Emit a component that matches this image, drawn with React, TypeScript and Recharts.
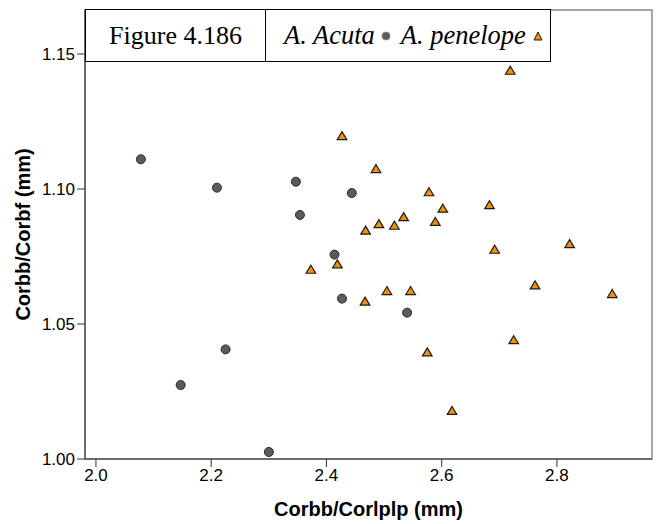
import {
  ScatterChart,
  Scatter,
  XAxis,
  YAxis,
  ReferenceArea,
  Legend,
} from 'recharts';

// A. Acuta (grey circles)
const acutaX = [2.078, 2.21, 2.347, 2.444, 2.354, 2.414, 2.427, 2.225, 2.147, 2.3, 2.54];
const acutaY = [1.111, 1.1005, 1.1027, 1.0985, 1.0904, 1.0757, 1.0594, 1.0406, 1.0274, 1.0026, 1.0542];

// A. penelope (orange triangles)
const penelopeX = [
  2.427, 2.486, 2.578, 2.602, 2.683, 2.534, 2.491, 2.518, 2.468, 2.589, 2.822, 2.692,
  2.419, 2.373, 2.762, 2.896, 2.505, 2.546, 2.467, 2.725, 2.575, 2.618, 2.719,
];
const penelopeY = [
  1.1196, 1.1074, 1.0988, 1.0927, 1.094, 1.0896, 1.087, 1.0864, 1.0846, 1.0878, 1.0796, 1.0775,
  1.0721, 1.0701, 1.0643, 1.0611, 1.0622, 1.0622, 1.0583, 1.044, 1.0395, 1.0178, 1.1438,
];

const xTicks = [2.0, 2.2, 2.4, 2.6, 2.8];
const yTicks = [1.0, 1.05, 1.1, 1.15];
const xDomain = [1.981, 2.965];
const yDomain = [1.0, 1.1663];

const acuta = acutaX.map((x, i) => ({ x, y: acutaY[i] }));
const penelope = penelopeX.map((x, i) => ({ x, y: penelopeY[i] }));

const sans = 'Liberation Sans, Arial, sans-serif';
const tickStyle = { fill: '#000', fontSize: 17, fontFamily: sans };

const Circle = (props: any) => (
  <circle cx={props.cx} cy={props.cy} r={4.5} fill="#5b5b5b" stroke="#2a2a2a" strokeWidth={1} />
);

const Triangle = (props: any) => {
  const { cx, cy } = props;
  return (
    <path
      d={`M${cx},${cy - 4.5} L${cx + 4.8},${cy + 3.5} L${cx - 4.8},${cy + 3.5} Z`}
      fill="#f0900f"
      stroke="#1a1a1a"
      strokeWidth={1.2}
    />
  );
};

function LegendBox() {
  const serif = 'Liberation Serif, Times New Roman, serif';
  return (
    <div
      style={{
        display: 'flex',
        width: 466,
        height: 53,
        boxSizing: 'border-box',
        border: '1.5px solid #000',
        background: '#fff',
        fontFamily: serif,
        fontSize: 26,
        color: '#000',
      }}
    >
      <div
        style={{
          width: 179,
          borderRight: '1.5px solid #000',
          display: 'flex',
          alignItems: 'center',
          justifyContent: 'center',
        }}
      >
        Figure 4.186
      </div>
      <div
        style={{
          flex: 1,
          display: 'flex',
          alignItems: 'center',
          paddingLeft: 18,
          fontStyle: 'italic',
          fontSize: 26.5,
        }}
      >
        <span>A. Acuta</span>
        <svg width={14} height={12} style={{ margin: '0 8px 0 4px' }}>
          <circle cx={7} cy={6} r={4} fill="#5b5b5b" stroke="#888" strokeWidth={1} />
        </svg>
        <span>A. penelope</span>
        <svg width={14} height={12} style={{ marginLeft: 5 }}>
          <path d="M7,2 L11,10 L3,10 Z" fill="#f0900f" stroke="#1a1a1a" strokeWidth={1} />
        </svg>
      </div>
    </div>
  );
}

export default function App() {
  return (
    <div style={{ position: 'absolute', top: 0, left: 0, width: 662, height: 524, background: '#fff' }}>
      <ScatterChart width={662} height={524} margin={{ top: 10, right: 10, bottom: 0, left: 0 }}>
        <XAxis
          type="number"
          dataKey="x"
          domain={xDomain}
          ticks={xTicks}
          allowDataOverflow
          height={65}
          stroke="#333"
          tickSize={8}
          tick={tickStyle}
          tickFormatter={(v: number) => v.toFixed(1)}
          label={{
            value: 'Corbb/Corlplp (mm)',
            position: 'insideBottom',
            offset: 8,
            style: { fill: '#000', fontSize: 20, fontWeight: 'bold', fontFamily: sans },
          }}
        />
        <YAxis
          type="number"
          dataKey="y"
          domain={yDomain}
          ticks={yTicks}
          allowDataOverflow
          width={85}
          stroke="#333"
          tickSize={8}
          tick={tickStyle}
          tickFormatter={(v: number) => v.toFixed(2)}
          label={{
            value: 'Corbb/Corbf (mm)',
            angle: -90,
            position: 'insideLeft',
            offset: 23,
            style: {
              fill: '#000',
              fontSize: 20,
              fontWeight: 'bold',
              fontFamily: sans,
              textAnchor: 'middle',
            },
          }}
        />
        <ReferenceArea
          x1={xDomain[0]}
          x2={xDomain[1]}
          y1={yDomain[0]}
          y2={yDomain[1]}
          fill="none"
          stroke="#8a8a8a"
          strokeWidth={1.5}
        />
        <Scatter name="A. Acuta" data={acuta} shape={Circle} isAnimationActive={false} />
        <Scatter name="A. penelope" data={penelope} shape={Triangle} isAnimationActive={false} />
        <Legend
          layout="vertical"
          align="center"
          verticalAlign="middle"
          wrapperStyle={{ top: 9, left: 85, width: 466, height: 53 }}
          content={() => <LegendBox />}
        />
      </ScatterChart>
    </div>
  );
}
